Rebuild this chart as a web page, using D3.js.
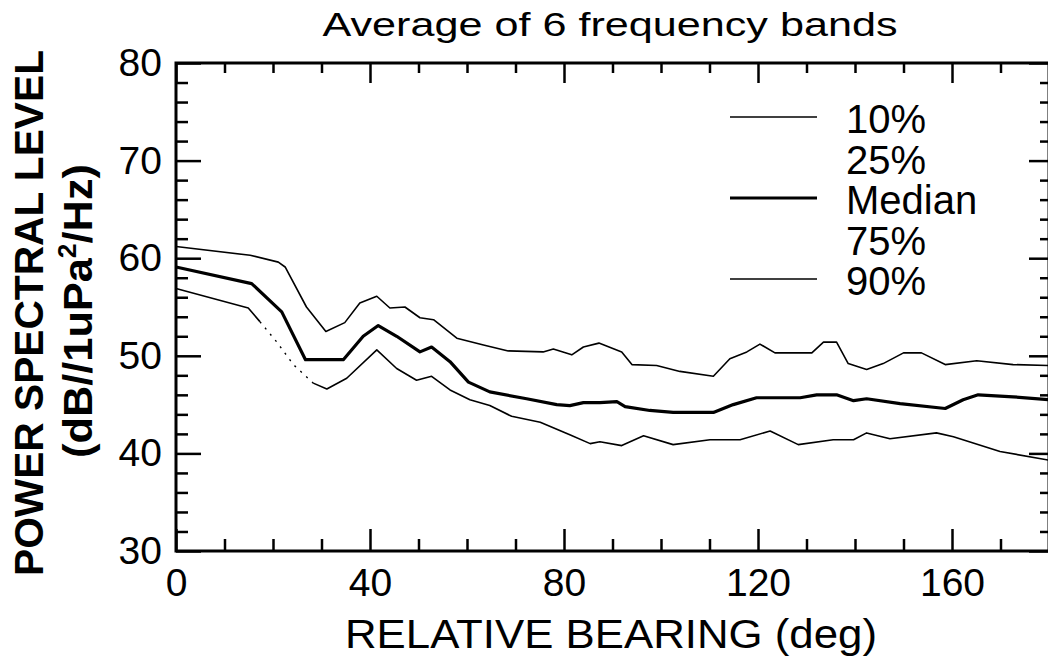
<!DOCTYPE html>
<html>
<head>
<meta charset="utf-8">
<script src="https://cdn.jsdelivr.net/npm/d3@7"></script>
<style>
  html, body { margin: 0; padding: 0; background: #fff; }
  svg { display: block; font-family: "Liberation Sans", Arial, sans-serif; }
</style>
</head>
<body>
<svg id="chart" width="1048" height="657"></svg>
<script>
// values (bearing in deg, level in dB)
const p10Bearing = [0, 15.3, 21.1, 22.5, 26.9, 30.9, 34.8, 37.9, 41.4, 44.1, 47.2, 50.3, 53.1, 57.9, 63.4,
  68.5, 75.7, 77.8, 81.6, 84.0, 87.2, 91.9, 94.0, 99.1, 103.9, 110.8, 114.2, 117.7, 120.4, 123.5,
  131.1, 133.5, 136.2, 138.6, 142.4, 145.8, 150.0, 153.7, 158.6, 165.1, 172.6, 180];
const p10Level = [61.2, 60.3, 59.6, 59.1, 55.0, 52.5, 53.4, 55.4, 56.1, 54.9, 55.0, 53.9, 53.7, 51.8, 51.1,
  50.5, 50.4, 50.7, 50.1, 50.9, 51.3, 50.4, 49.1, 49.0, 48.4, 47.9, 49.7, 50.4, 51.2, 50.3,
  50.3, 51.4, 51.4, 49.2, 48.6, 49.2, 50.3, 50.3, 49.1, 49.5, 49.1, 49.0];

const medBearing = [0, 15.6, 21.8, 26.7, 34.5, 38.6, 41.7, 45.5, 50.3, 52.7, 56.5, 60.3, 64.7, 72.3, 78.5,
  81.2, 84.0, 87.4, 90.9, 92.6, 97.7, 102.5, 110.8, 114.9, 119.7, 128.7, 132.1, 136.2, 139.7, 142.4,
  149.3, 158.6, 162.3, 165.4, 172.6, 180];
const medLevel = [59.1, 57.4, 54.5, 49.6, 49.6, 52.0, 53.1, 52.0, 50.4, 50.9, 49.4, 47.3, 46.3, 45.6, 45.0,
  44.9, 45.2, 45.2, 45.3, 44.8, 44.4, 44.2, 44.2, 45.0, 45.7, 45.7, 46.0, 46.0, 45.4, 45.6,
  45.1, 44.6, 45.5, 46.0, 45.8, 45.5];

const p90Bearing = [0, 14.9, 17.3, 20.8, 24.2, 28.3, 31.1, 35.2, 41.4, 45.5, 49.6, 52.7, 56.5, 60.6, 64.7,
  69.2, 75.1, 81.2, 85.4, 87.4, 91.9, 96.4, 102.5, 110.1, 116.3, 122.5, 128.3, 135.5, 139.7, 142.4,
  147.2, 156.8, 160.3, 169.9, 180];
const p90Level = [56.9, 54.9, 53.5, 51.4, 49.1, 47.2, 46.6, 47.7, 50.6, 48.7, 47.5, 47.9, 46.5, 45.5, 44.9,
  43.8, 43.2, 41.9, 41.0, 41.2, 40.8, 41.8, 40.9, 41.4, 41.4, 42.3, 40.9, 41.4, 41.4, 42.1,
  41.5, 42.1, 41.7, 40.2, 39.3];
// stretch of the 90% curve that is only dotted in the scan
const p90DottedRange = [17.3, 28.3];

const xMajor = [0, 40, 80, 120, 160];
const xMinor = [10, 20, 30, 50, 60, 70, 90, 100, 110, 130, 140, 150, 170];
const yMajor = [30, 40, 50, 60, 70, 80];
const yMinor = d3.range(32, 80, 2).filter(v => v % 10 !== 0);

const legendLabels = ['10%', '25%', 'Median', '75%', '90%'];
const legendStroke = [1.5, 0, 3, 0, 1.5];

const svg = d3.select('#chart');
const plotL = 176, plotR = 1049, plotT = 63, plotB = 551;

const x = d3.scaleLinear().domain([0, 180]).range([plotL, plotR]);
const y = d3.scaleLinear().domain([30, 80]).range([plotB, plotT]);

// ---- axes, ticks all pointing inward
function styleAxis(g, fontSize) {
    g.select('.domain').remove();
    g.selectAll('line').attr('stroke', '#000').attr('stroke-width', 2.5);
    g.selectAll('text').attr('font-size', fontSize).attr('fill', '#000')
        .style('font-family', '"Liberation Sans", Arial, sans-serif');
}

svg.append('g').attr('transform', `translate(0,${plotB})`)
    .call(d3.axisBottom(x).tickValues(xMajor).tickSize(-22).tickPadding(17).tickFormat(d3.format('d')))
    .call(g => styleAxis(g, 39));
svg.append('g').attr('transform', `translate(0,${plotB})`)
    .call(d3.axisBottom(x).tickValues(xMinor).tickSize(-12).tickFormat(''))
    .call(g => styleAxis(g, 0));
svg.append('g').attr('transform', `translate(0,${plotT})`)
    .call(d3.axisTop(x).tickValues(xMajor).tickSize(-20).tickFormat(''))
    .call(g => styleAxis(g, 0));
svg.append('g').attr('transform', `translate(0,${plotT})`)
    .call(d3.axisTop(x).tickValues(xMinor).tickSize(-10).tickFormat(''))
    .call(g => styleAxis(g, 0));

svg.append('g').attr('transform', `translate(${plotL},0)`)
    .call(d3.axisLeft(y).tickValues(yMajor).tickSize(-25).tickPadding(14).tickFormat(d3.format('d')))
    .call(g => styleAxis(g, 39));
svg.append('g').attr('transform', `translate(${plotL},0)`)
    .call(d3.axisLeft(y).tickValues(yMinor).tickSize(-12).tickFormat(''))
    .call(g => styleAxis(g, 0));
svg.append('g').attr('transform', `translate(${plotR},0)`)
    .call(d3.axisRight(y).tickValues(yMajor).tickSize(-20).tickFormat(''))
    .call(g => styleAxis(g, 0));
svg.append('g').attr('transform', `translate(${plotR},0)`)
    .call(d3.axisRight(y).tickValues(yMinor).tickSize(-9).tickFormat(''))
    .call(g => styleAxis(g, 0));

// frame
svg.append('rect')
    .attr('x', plotL).attr('y', plotT)
    .attr('width', plotR - plotL).attr('height', plotB - plotT)
    .attr('fill', 'none').attr('stroke', '#000').attr('stroke-width', 3);

// ---- curves
const line = d3.line().x(d => x(d[0])).y(d => y(d[1]));
const zip = (a, b) => a.map((v, i) => [v, b[i]]);

const curves = svg.append('g').attr('fill', 'none').attr('stroke', '#000')
    .attr('stroke-linejoin', 'round');

curves.append('path').datum(zip(p10Bearing, p10Level))
    .attr('stroke-width', 1.6).attr('d', line);
curves.append('path').datum(zip(medBearing, medLevel))
    .attr('stroke-width', 3.2).attr('d', line);

const p90 = zip(p90Bearing, p90Level);
curves.append('path').datum(p90)
    .attr('stroke-width', 1.6)
    .attr('d', line.defined(d => d[0] <= p90DottedRange[0] || d[0] >= p90DottedRange[1]));
curves.append('path')
    .datum(p90.filter(d => d[0] >= p90DottedRange[0] && d[0] <= p90DottedRange[1]))
    .attr('stroke-width', 1.4).attr('stroke-dasharray', '2,6')
    .attr('d', d3.line().x(d => x(d[0])).y(d => y(d[1])));

// ---- legend
const legend = svg.append('g');
legendLabels.forEach((lab, i) => {
    const base = 133 + i * 40.5;
    if (legendStroke[i] > 0) {
        legend.append('line')
            .attr('x1', 730).attr('x2', 817)
            .attr('y1', base - 16).attr('y2', base - 16)
            .attr('stroke', '#000').attr('stroke-width', legendStroke[i]);
    }
    legend.append('text')
        .attr('x', 846).attr('y', base)
        .attr('font-size', 40)
        .text(lab);
});

// ---- titles
svg.append('text')
    .attr('x', 610).attr('y', 36)
    .attr('text-anchor', 'middle')
    .attr('font-size', 34)
    .attr('textLength', 575).attr('lengthAdjust', 'spacingAndGlyphs')
    .text('Average of 6 frequency bands');

svg.append('text')
    .attr('x', 611).attr('y', 648)
    .attr('text-anchor', 'middle')
    .attr('font-size', 41)
    .attr('textLength', 532).attr('lengthAdjust', 'spacingAndGlyphs')
    .text('RELATIVE BEARING (deg)');

svg.append('text')
    .attr('transform', 'translate(43,313) rotate(-90)')
    .attr('text-anchor', 'middle')
    .attr('font-size', 41).attr('font-weight', 'bold')
    .attr('textLength', 526).attr('lengthAdjust', 'spacingAndGlyphs')
    .text('POWER SPECTRAL LEVEL');

const unit = svg.append('text')
    .attr('transform', 'translate(92,311) rotate(-90)')
    .attr('text-anchor', 'middle')
    .attr('font-size', 41).attr('font-weight', 'bold')
    .attr('textLength', 294).attr('lengthAdjust', 'spacingAndGlyphs');
unit.append('tspan').text('(dB//1uPa');
unit.append('tspan').attr('font-size', 25).attr('dy', -16).text('2');
unit.append('tspan').attr('dy', 16).text('/Hz)');
</script>
</body>
</html>
